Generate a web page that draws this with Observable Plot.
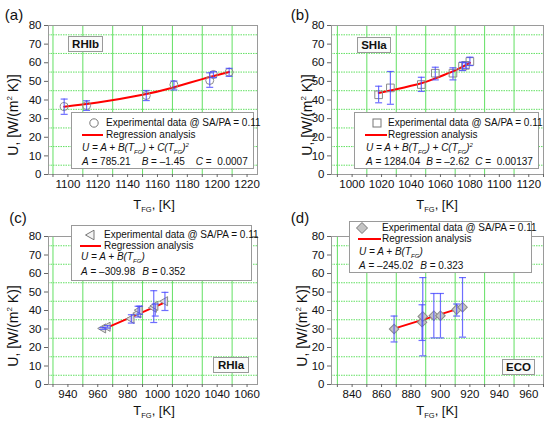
<!DOCTYPE html>
<html>
<head>
<meta charset="utf-8">
<script src="https://cdn.jsdelivr.net/npm/d3@7"></script>
<script src="https://cdn.jsdelivr.net/npm/@observablehq/plot@0.6"></script>
<style>
  body { margin: 0; background: #fff; }
  #root { position: relative; width: 550px; height: 427px; overflow: hidden; background: #fff;
          font-family: "Liberation Sans", Arial, sans-serif; color: #111; }
  .abs { position: absolute; white-space: pre; line-height: 1; }
  .box { position: absolute; border: 1px solid #9a9a9a; background: #fff; box-sizing: border-box; }
  .tag { position: absolute; border: 1px solid #9a9a9a; background: #fafafa; box-sizing: border-box;
         font-weight: bold; font-size: 11.5px; display: flex; align-items: center; justify-content: center; }
  sub, sup { line-height: 0; }
  .par { display: inline-block; }
</style>
</head>
<body>
<div id="root"></div>
<script>
// ---------- data ----------
// (a) RHIb
const aT  = [1097.5, 1112.5, 1152.5, 1171, 1195, 1197.5, 1208];
const aU  = [36.5, 37.0, 42.4, 48.2, 50.5, 53.7, 54.9];
const aLo = [32.3, 34.4, 39.7, 45.4, 46.8, 52.0, 52.7];
const aHi = [40.5, 39.6, 45.1, 50.2, 54.6, 55.2, 57.0];
const aRegT = [1097.5, 1120, 1150, 1170, 1190, 1208];
const aRegU = [36.4, 38.6, 42.8, 46.6, 51.2, 55.0];
const aTicks = [1100, 1120, 1140, 1160, 1180, 1200, 1220];

// (b) SHIa
const bT  = [1018, 1026, 1047, 1056.5, 1068.5, 1075, 1077, 1080];
const bU  = [42.8, 46.5, 48.3, 54.4, 54.4, 58.1, 58.6, 60.7];
const bLo = [38.5, 37.7, 44.6, 50.8, 50.8, 55.8, 57.0, 58.5];
const bHi = [47.4, 55.3, 52.2, 57.6, 57.3, 60.3, 60.0, 63.0];
const bRegT = [1018, 1030, 1047, 1057, 1068, 1080];
const bRegU = [43.8, 45.8, 49.0, 51.8, 55.2, 60.0];
const bTicks = [1000, 1020, 1040, 1060, 1080, 1100, 1120];

// (c) RHIa
const cT  = [963.5, 966.5, 982.5, 987, 988, 997.5, 998.5, 1005];
const cU  = [30.3, 31.2, 35.5, 38.5, 40.2, 41.5, 42.5, 45.0];
const cLo = [29.8, 30.5, 33.2, 36.5, 38.0, 33.5, 37.0, 40.0];
const cHi = [30.8, 31.8, 37.7, 42.3, 42.3, 50.7, 43.5, 49.8];
const cRegT = [963.5, 1005.5];
const cRegU = [29.8, 44.5];
const cTicks = [940, 960, 980, 1000, 1020, 1040, 1060];

// (d) ECO
const dT  = [868.5, 887.5, 888, 895.5, 900, 911, 915];
const dU  = [30.0, 33.7, 36.8, 37.2, 37.2, 40.5, 41.8];
const dLo = [23.0, 23.8, 15.5, 25.2, 25.2, 37.0, 25.6];
const dHi = [37.0, 43.1, 57.8, 49.2, 49.2, 43.5, 57.8];
const dRegT = [868.5, 913.5];
const dRegU = [30.2, 41.3];
const dTicks = [840, 860, 880, 900, 920, 940, 960];

const yTicks = [0, 10, 20, 30, 40, 50, 60, 70, 80];
const yGrid = [5, 15, 25, 35, 45, 55, 65, 75];

// ---------- drawing ----------
const root = document.getElementById("root");
const FONT = '"Liberation Sans", Arial, sans-serif';
const GRID = "#62e062";
const ERR = "#4a4aff";

const cap = { draw(ctx) { ctx.moveTo(-3.5, 0); ctx.lineTo(3.5, 0); } };

function panel(o) {
  const pts = o.T.map((t, i) => ({ t, u: o.U[i], lo: o.Lo[i], hi: o.Hi[i] }));
  const reg = o.regT.map((t, i) => ({ t, u: o.regU[i] }));
  const step = o.ticks[1] - o.ticks[0];
  const gridX = o.ticks.map(v => v - step / 2).concat([o.ticks[o.ticks.length - 1] + step / 2])
    .filter(v => v > o.xd[0] && v < o.xd[1]);
  const minorX = d3.range(o.ticks[0] - step, o.ticks[o.ticks.length - 1] + step, step / 2)
    .filter(v => v >= o.xd[0] && v <= o.xd[1]);
  const svg = Plot.plot({
    width: 275, height: o.h,
    marginLeft: o.ml, marginRight: o.mr, marginTop: o.mt, marginBottom: o.mb,
    x: { domain: o.xd },
    y: { domain: [0, 80] },
    style: { fontFamily: FONT, fontSize: "11px", color: "#111", background: "transparent", overflow: "visible" },
    marks: [
      Plot.ruleX(gridX, { stroke: GRID, strokeWidth: 1 }),
      Plot.ruleY(yGrid, { stroke: GRID, strokeWidth: 1, strokeDasharray: "1.5,1" }),
      Plot.frame({ stroke: "#9a9a9a" }),
      Plot.axisX(minorX, { tickSize: 3, stroke: "#666", tickFormat: () => "", label: null }),
      Plot.axisX(o.ticks, { tickSize: 0, tickPadding: 5, fontSize: 11.5, tickFormat: d => String(d), label: null }),
      Plot.axisY(yTicks, { tickSize: 4, tickPadding: 3, stroke: "#666", fontSize: 11.5, tickFormat: d => String(d), label: null }),
      Plot.line(reg, { x: "t", y: "u", stroke: "#ff0000", strokeWidth: 2, curve: "natural" }),
      Plot.dot(pts, { x: "t", y: "u", symbol: o.symbol, r: o.r, rotate: o.rot, stroke: "#8a8a8a", strokeWidth: 1, fill: o.fill }),
      Plot.ruleX(pts, { x: "t", y1: "lo", y2: "hi", stroke: ERR, strokeOpacity: 0.8, strokeWidth: 1.2 }),
      Plot.dot(pts, { x: "t", y: "lo", symbol: cap, stroke: ERR, strokeOpacity: 0.8, strokeWidth: 1.2, fill: "none" }),
      Plot.dot(pts, { x: "t", y: "hi", symbol: cap, stroke: ERR, strokeOpacity: 0.8, strokeWidth: 1.2, fill: "none" })
    ]
  });
  const wrap = document.createElement("div");
  wrap.style.cssText = `position:absolute;left:${o.left}px;top:${o.top}px;width:275px;height:${o.h}px;`;
  wrap.appendChild(svg);
  root.appendChild(wrap);
}

panel({ T: aT, U: aU, Lo: aLo, Hi: aHi, regT: aRegT, regU: aRegU, ticks: aTicks, xd: [1087, 1227],
  left: 0, top: 0, h: 210, ml: 48, mr: 18, mt: 25, mb: 36, symbol: "circle", r: 4, rot: 0, fill: "none" });
panel({ T: bT, U: bU, Lo: bLo, Hi: bHi, regT: bRegT, regU: bRegU, ticks: bTicks, xd: [986, 1130],
  left: 275, top: 0, h: 210, ml: 56, mr: 7, mt: 25, mb: 36, symbol: "square", r: 4.3, rot: 0, fill: "none" });
panel({ T: cT, U: cU, Lo: cLo, Hi: cHi, regT: cRegT, regU: cRegU, ticks: cTicks, xd: [927, 1067],
  left: 0, top: 210, h: 217, ml: 48, mr: 18, mt: 26, mb: 43, symbol: "triangle", r: 3.4, rot: -90, fill: "#dcdcdc" });
panel({ T: dT, U: dU, Lo: dLo, Hi: dHi, regT: dRegT, regU: dRegU, ticks: dTicks, xd: [826, 970],
  left: 275, top: 210, h: 217, ml: 56, mr: 7, mt: 26, mb: 43, symbol: "square", r: 3.8, rot: 45, fill: "#c4c4c4" });

// ---------- text, titles, legends ----------
function el(cls, x, y, html, style) {
  const d = document.createElement("div");
  d.className = cls;
  d.style.left = x + "px"; d.style.top = y + "px";
  if (style) d.style.cssText += style;
  d.innerHTML = html;
  root.appendChild(d);
  return d;
}
function centered(x, y, html, style) {
  return el("abs", x, y, html, "transform:translate(-50%,-50%);" + (style || ""));
}

// panel letters
[["(a)", 14, 14], ["(b)", 300, 14], ["(c)", 18, 217], ["(d)", 300, 217]]
  .forEach(([t, x, y]) => centered(x, y, t, "font-size:15px;"));

// axis titles
const yTitle = 'U, [W/(m<sup style="font-size:8px">2</sup> K)]';
const xTitle = 'T<sub style="font-size:7.5px">FG</sub>, [K]';
[[13, 115], [307, 115], [13, 326], [302, 326]].forEach(([x, y]) =>
  centered(x, y, yTitle, "font-size:14px;transform:translate(-50%,-50%) rotate(-90deg);"));
[[154, 204], [437, 204], [154, 410], [437, 410]].forEach(([x, y]) =>
  centered(x, y, xTitle, "font-size:13px;"));

// component tags
[["RHIb", 68, 36, 35], ["SHIa", 357, 37, 34], ["RHIa", 213, 357, 36], ["ECO", 502, 359, 33]]
  .forEach(([t, x, y, w]) => el("tag", x, y, t, `width:${w}px;height:16px;`));

const LF = "font-size:10px;";
const formula = 'U = A + B(T<sub style="font-size:6px">FG</sub>) + C(T<sub style="font-size:6px">FG</sub>)<sup style="font-size:6px">2</sup>';
const formulaLin = 'U = A + B(T<sub style="font-size:6px">FG</sub>)';

function symSvg(kind) {
  const s = '<svg width="12" height="12" viewBox="-6 -6 12 12" style="display:block">';
  if (kind === "circle") return s + '<circle r="4.2" fill="none" stroke="#777" stroke-width="1"/></svg>';
  if (kind === "square") return s + '<rect x="-4" y="-4" width="8" height="8" fill="none" stroke="#777"/></svg>';
  if (kind === "tri") return s + '<path d="M-4.5,0L4,-4.8L4,4.8Z" fill="#f4f4f4" stroke="#777"/></svg>';
  return s + '<path d="M0,-5.5L5.5,0L0,5.5L-5.5,0Z" fill="#c4c4c4" stroke="#777"/></svg>';
}

function legend(o) {
  el("box", o.bx, o.by, "", `width:${o.bw}px;height:${o.bh}px;`);
  centered(o.sx, o.sy, symSvg(o.kind), "");
  el("abs", o.tx, o.sy - 5, "Experimental data @ SA/PA = 0.11", LF);
  el("abs", o.lx1, o.ly - 1, "", `width:${o.lx2 - o.lx1}px;height:2px;background:#ff0000;`);
  el("abs", o.tx, o.ly - 5, "Regression analysis", LF);
  el("abs", o.fx, o.fy - 5, o.formula, LF + "font-style:italic;");
  const html = o.params.map(([name, val]) =>
    `<span class="par" style="margin-right:${o.gap}px"><i>${name}</i> = ${val}</span>`).join("");
  el("abs", o.fx, o.py - 5, html, LF);
}

legend({ bx: 71, by: 112, bw: 183, bh: 57, kind: "circle", sx: 94, sy: 123, tx: 106,
  lx1: 82, lx2: 103, ly: 135, fx: 82, fy: 148, formula: formula, py: 162, gap: 11,
  params: [["A", "785.21"], ["B", "–1.45"], ["C", " 0.0007"]] });
legend({ bx: 354, by: 112, bw: 185, bh: 57, kind: "square", sx: 377, sy: 123, tx: 388,
  lx1: 365, lx2: 387, ly: 135, fx: 366, fy: 148, formula: formula, py: 162, gap: 6,
  params: [["A", "1284.04"], ["B", "–2.62"], ["C", " 0.00137"]] });
legend({ bx: 71, by: 225, bw: 181, bh: 56, kind: "tri", sx: 89.5, sy: 235, tx: 104,
  lx1: 80, lx2: 101, ly: 246, fx: 81, fy: 257, formula: formulaLin, py: 272, gap: 7,
  params: [["A", "–309.98"], ["B", "0.352"]] });
legend({ bx: 349, by: 221, bw: 183, bh: 52, kind: "diamond", sx: 362, sy: 228, tx: 382,
  lx1: 358, lx2: 381, ly: 239, fx: 359, fy: 252, formula: formulaLin, py: 266, gap: 7,
  params: [["A", "–245.02"], ["B", "0.323"]] });
</script>
</body>
</html>
